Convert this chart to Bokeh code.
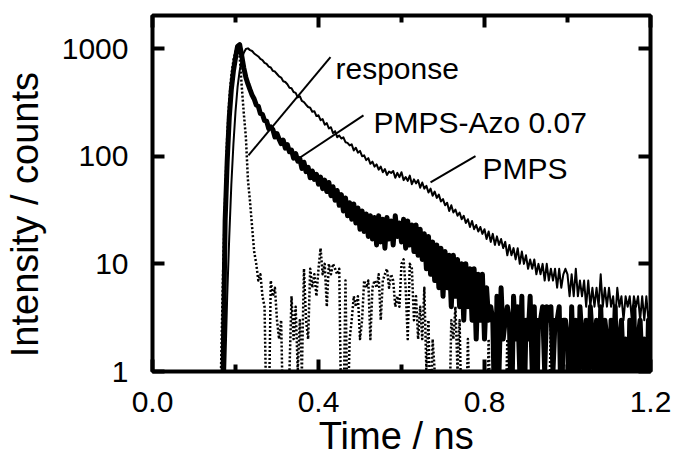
import numpy as np
from bokeh.plotting import figure
from bokeh.models import (FixedTicker, NumeralTickFormatter, LinearAxis, LogAxis,
                          ColumnDataSource, Range1d)
from bokeh.embed import file_html
from bokeh.resources import INLINE
from bokeh.core.properties import value

# ---------------- data ----------------
# time channels: 0.150 ns ... 1.200 ns, step 0.005 ns
t_start, t_step, n_ch = 0.150, 0.005, 211

# PMPS (thin solid line), counts
pmps = [
    0, 0, 0, 0, 0, 1, 5, 18, 55, 130,                 # 0.150
    260, 440, 620, 790, 915, 990, 1005, 968, 950, 901,  # 0.200
    872, 845, 801, 783, 738, 722, 680, 668, 621, 612,  # 0.250
    581, 552, 538, 497, 489, 466, 432, 428, 395, 388,  # 0.300
    352, 361, 326, 318, 301, 287, 282, 259, 262, 236,  # 0.350
    240, 216, 221, 196, 203, 181, 186, 164, 171, 150,  # 0.400
    156, 146, 150, 135, 133, 126, 129, 113, 120, 108,  # 0.450
    112, 100, 102, 92, 96, 85, 89, 80, 84, 75,         # 0.500
    80, 71, 76, 67, 72, 70, 73, 63, 70, 64,            # 0.550
    71, 60, 64, 59, 66, 55, 61, 56, 60, 51,            # 0.600
    57, 50, 53, 46, 50, 43, 47, 41, 44, 38,            # 0.650
    40, 35, 37, 31, 35, 30, 32, 28, 30, 26,            # 0.700
    28, 24, 26, 22, 25, 21, 23, 20, 22, 19,            # 0.750
    21, 17, 20, 16, 19, 15, 18, 15, 17, 14,            # 0.800
    16, 12, 15, 12, 14, 11, 14, 10, 13, 10,            # 0.850
    12, 9, 11, 9, 11, 8, 10, 8, 10, 7,                 # 0.900
    10, 7, 9, 7, 9, 6, 9, 6, 8, 9,                     # 0.950
    8, 5, 8, 5, 9, 5, 7, 5, 7, 4,                      # 1.000
    7, 4, 6, 4, 6, 4, 8, 4, 6, 4,                      # 1.050
    6, 4, 5, 3, 6, 4, 5, 3, 5, 4,                      # 1.100
    5, 3, 5, 4, 5, 3, 5, 3, 5, 3,                      # 1.150
    4,                                                 # 1.200
]

# PMPS-Azo 0.07 (thick solid line), counts
pmps_azo = [
    0, 0, 0, 0, 1, 25, 90, 230, 420, 620,              # 0.150
    820, 1050, 1090, 860, 660, 540, 470, 415, 370, 340,  # 0.200
    300, 291, 249, 244, 214, 212, 181, 187, 177, 151,  # 0.250
    162, 144, 131, 141, 119, 128, 110, 114, 96, 106,   # 0.300
    90, 95, 77, 88, 72, 79, 63, 73, 61, 68,            # 0.350
    55, 64, 50, 60, 47, 57, 43, 52, 39, 48,            # 0.400
    35, 44, 31, 41, 28, 37, 26, 36, 24, 33,            # 0.450
    21, 31, 20, 29, 18, 28, 17, 27, 15, 28,            # 0.500
    16, 26, 14, 27, 17, 25, 15, 28, 18, 24,            # 0.550
    16, 26, 14, 25, 15, 23, 13, 23, 12, 21,            # 0.600
    11, 19, 9, 18, 8, 16, 7, 15, 6, 14,                # 0.650
    5, 13, 6, 12, 4, 12, 5, 11, 4, 10,                 # 0.700
    3, 10, 4, 9, 3, 9, 2, 8, 3, 8,                     # 0.750
    2, 6, 3, 4, 3, 0, 5, 1, 6, 2,                      # 0.800
    3, 4, 3, 0, 5, 2, 4, 1, 5, 0,                      # 0.850
    3, 2, 5, 1, 4, 0, 3, 3, 4, 1,                      # 0.900
    4, 3, 4, 1, 3, 3, 4, 0, 3, 3,                      # 0.950
    2, 0, 4, 1, 3, 0, 4, 2, 1, 3,                      # 1.000
    0, 4, 2, 1, 3, 0, 4, 1, 3, 2,                      # 1.050
    0, 3, 1, 4, 0, 2, 3, 1, 2, 0,                      # 1.100
    3, 1, 4, 0, 2, 3, 1, 2, 0, 3,                      # 1.150
    2,                                                 # 1.200
]

# instrument response (dotted line), counts
response = [
    0, 0, 0, 1, 8, 40, 150, 330, 560, 780,             # 0.150
    940, 1000, 850, 450, 250, 150, 60, 38, 22, 13,     # 0.200
    10, 7, 8, 5, 4, 0, 0, 7, 5, 6,                     # 0.250
    3, 2, 3, 0, 0, 0, 1, 5, 2, 4,                      # 0.300
    1, 3, 1, 9, 3, 2, 9, 6, 8, 5,                      # 0.350
    9, 14, 8, 10, 4, 10, 8, 10, 9, 8,                  # 0.400
    9, 0, 0, 7, 0, 2, 3, 5, 4, 5,                      # 0.450
    2, 3, 7, 6, 7, 2, 6, 7, 6, 8,                      # 0.500
    3, 7, 8, 9, 6, 8, 7, 4, 5, 4,                      # 0.550
    10, 11, 6, 2, 10, 9, 3, 5, 2, 4,                   # 0.600
    2, 6, 1, 3, 0, 2, 1, 0, 0, 0,                      # 0.650
    0, 0, 0, 0, 3, 2, 4, 1, 3, 0,                      # 0.700
    1, 0, 2, 0, 0, 0, 0, 0, 0, 0,                      # 0.750
    0, 0, 2, 0, 0, 0, 0, 0, 0, 0,                      # 0.800
    0, 2, 0, 0, 0, 0, 0, 0, 0, 0,                      # 0.850
    0, 0, 0, 0, 0, 0, 0, 0, 0, 0,                      # 0.900
    0, 0, 3, 0, 0, 0, 0, 0, 0, 0,                      # 0.950
    0, 0, 0, 0, 0, 0, 0, 0, 0, 0,                      # 1.000
    0, 0, 0, 0, 0, 0, 0, 0, 0, 0,                      # 1.050
    0, 0, 0, 0, 0, 0, 0, 0, 0, 0,                      # 1.100
    0, 0, 0, 0, 0, 0, 0, 0, 0, 0,                      # 1.150
    0,                                                 # 1.200
]

x_ticks = [0.0, 0.4, 0.8, 1.2]
x_minor_ticks = [0.2, 0.6, 1.0]
y_ticks = [1, 10, 100, 1000]
x_title = "Time / ns"
y_title = "Intensity / counts"

# curve labels and their leader lines (data coordinates)
label_text = ["response", "PMPS-Azo 0.07", "PMPS"]
label_x = [0.441, 0.5325, 0.795]
label_y = [659, 207, 77.3]
leader_x0 = [0.2313, 0.3566, 0.6699]
leader_y0 = [102, 97.9, 57.3]
leader_x1 = [0.4289, 0.5084, 0.7783]
leader_y1 = [834, 240, 100]

# ---------------- figure ----------------
assert len(pmps) == len(pmps_azo) == len(response) == n_ch
time_ns = np.round(t_start + t_step * np.arange(n_ch), 3)

ZERO_FLOOR = 0.3  # zero counts drawn below the log axis (clipped off)


def for_log(counts):
    return [c if c > 0 else ZERO_FLOOR for c in counts]


src = ColumnDataSource(dict(t=time_ns, pmps=for_log(pmps),
                            azo=for_log(pmps_azo), resp=for_log(response)))

FONT = "Liberation Sans"
NBSP = "\u00a0"
W, H = 677, 460
p = figure(width=W, height=H, y_axis_type="log",
           x_range=Range1d(0, 1.2), y_range=Range1d(1, 2030),
           output_backend="svg", toolbar_location=None,
           min_border_left=152, min_border_right=27,
           min_border_top=15, min_border_bottom=89)
p.xgrid.grid_line_color = None
p.ygrid.grid_line_color = None
p.background_fill_color = "white"
p.border_fill_color = "white"
p.outline_line_color = "black"
p.outline_line_width = 4
p.outline_line_alpha = 1.0

# mirrored tick axes (no labels)
p.add_layout(LinearAxis(), "above")
p.add_layout(LogAxis(), "right")

for ax in p.xaxis:
    ax.ticker = FixedTicker(ticks=x_ticks, minor_ticks=x_minor_ticks)
    ax.formatter = NumeralTickFormatter(format="0.0")
for ax in p.yaxis:
    ax.ticker = FixedTicker(ticks=y_ticks, minor_ticks=[])
    ax.formatter = NumeralTickFormatter(format="0")

for ax in p.axis:
    ax.axis_line_color = None
    ax.major_tick_in = 12
    ax.major_tick_out = 0
    ax.minor_tick_in = 7
    ax.minor_tick_out = 0
    ax.major_tick_line_width = 4
    ax.minor_tick_line_width = 4
    ax.major_tick_line_color = "black"
    ax.minor_tick_line_color = "black"
    ax.major_label_text_font = FONT
    ax.major_label_text_font_size = "30px"
    ax.major_label_text_color = "black"

p.below[0].major_label_standoff = 20
p.left[0].major_label_standoff = 24
p.above[0].major_label_overrides = {t: "" for t in x_ticks}
p.above[0].major_label_standoff = 0
p.right[0].major_label_overrides = {t: "" for t in y_ticks}
p.right[0].major_label_standoff = 0

# title axes (no ticks), stacked outside the tick-label axes
x_title_axis = LinearAxis(ticker=FixedTicker(ticks=[]),
                          axis_label=x_title + NBSP, axis_line_color=None,
                          major_tick_in=0, major_tick_out=0,
                          minor_tick_in=0, minor_tick_out=0,
                          axis_label_standoff=0,
                          axis_label_text_font=FONT,
                          axis_label_text_font_size="38px",
                          axis_label_text_font_style="normal",
                          axis_label_text_color="black")
p.add_layout(x_title_axis, "below")
y_title_axis = LogAxis(ticker=FixedTicker(ticks=[]),
                       axis_label=y_title + NBSP * 4, axis_line_color=None,
                       major_tick_in=0, major_tick_out=0,
                       minor_tick_in=0, minor_tick_out=0,
                       axis_label_standoff=13,
                       axis_label_text_font=FONT,
                       axis_label_text_font_size="38px",
                       axis_label_text_font_style="normal",
                       axis_label_text_color="black")
p.add_layout(y_title_axis, "left")

# curves
p.line("t", "azo", source=src, line_width=5, line_color="black", line_join="round")
p.line("t", "pmps", source=src, line_width=2, line_color="black", line_join="round")
p.line("t", "resp", source=src, line_width=2.5, line_color="black",
       line_dash="2 2", line_join="round")

# curve labels with leader lines
p.segment(x0=leader_x0, y0=leader_y0, x1=leader_x1, y1=leader_y1,
          line_color="black", line_width=2)
p.text(x=label_x, y=label_y, text=label_text, text_font=value(FONT),
       text_font_size=value("30px"), text_color="black",
       text_align="left", text_baseline="alphabetic")

open("out.html", "w").write(file_html(p, INLINE))
